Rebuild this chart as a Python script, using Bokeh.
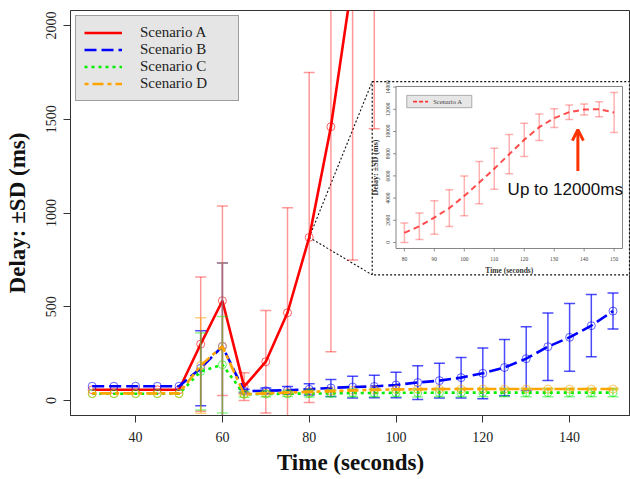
import math
from bokeh.plotting import figure
from bokeh.models import (Range1d, FixedTicker, Legend, LegendItem, Arrow, OpenHead)
from bokeh.core.properties import value
from bokeh.embed import file_html
from bokeh.resources import INLINE

# ---------------- data ----------------
time_s = [30, 35, 40, 45, 50, 55, 60, 65, 70, 75, 80, 85, 90, 95, 100,
          105, 110, 115, 120, 125, 130, 135, 140, 145, 150]

a_mean = [57, 57, 57, 57, 57, 301, 532, 74, 207, 468, 870, 1460, 2250, 3100, 4200,
          5400, 6640, 7960, 9250, 10390, 11200, 11740, 11980, 12010, 11710]
a_sd = [0, 0, 0, 0, 0, 358, 505, 74, 273, 560, 880, 1200, 1500, 1650, 1800,
        1900, 1850, 1760, 1500, 1190, 840, 650, 500, 680, 1800]

b_mean = [76, 76, 76, 76, 76, 172, 289, 50, 52, 55, 60, 67, 72, 75, 83,
          96, 106, 122, 145, 176, 223, 287, 337, 399, 477]
b_sd = [0, 0, 0, 0, 0, 200, 445, 10, 15, 20, 30, 45, 58, 60, 68,
        90, 93, 108, 135, 150, 170, 180, 181, 166, 96]

c_mean = [36, 36, 36, 36, 36, 155, 191, 33, 35, 36, 37, 38, 40, 40, 41,
          41, 42, 42, 42, 42, 42, 42, 42, 42, 42]
c_sd = [0, 0, 0, 0, 0, 205, 257, 15, 15, 15, 18, 18, 20, 20, 20,
        22, 22, 22, 22, 22, 22, 22, 22, 22, 22]

d_mean = [38, 38, 38, 38, 38, 187, 289, 34, 38, 42, 46, 50, 54, 57, 59,
          60, 61, 61, 61, 61, 61, 61, 61, 61, 61]
d_sd = [0, 0, 0, 0, 0, 255, 445, 5, 5, 5, 5, 5, 5, 5, 5,
        5, 5, 5, 5, 5, 5, 5, 5, 5, 5]

series_names = ["Scenario A", "Scenario B", "Scenario C", "Scenario D"]
x_ticks = [40, 60, 80, 100, 120, 140]
y_ticks = [0, 500, 1000, 1500, 2000]
inset_start = 80
inset_x_ticks = [80, 90, 100, 110, 120, 130, 140, 150]
inset_y_ticks = [0, 2000, 4000, 6000, 8000, 10000, 12000, 14000]
x_title = "Time (seconds)"
y_title = "Delay: \u00b1SD (ms)"
note_text = "Up to 12000ms"

# ---------------- styles ----------------
colors = ["#FF0000", "#0000FF", "#00EE00", "#FFA500"]
dashes = ["solid", "12 5", "3 4", "4 4 11 4"]
bar_alpha = [0.4, 0.7, 0.45, 0.5]
SERIF = "Liberation Serif"

p = figure(width=630, height=479, output_backend="svg", toolbar_location=None,
           x_range=Range1d(25.0, 154.03), y_range=Range1d(-80, 2080),
           min_border_left=70, min_border_right=0, min_border_top=10,
           min_border_bottom=64, background_fill_color="white",
           border_fill_color="white")
p.grid.visible = False
p.outline_line_color = "#333333"
p.outline_line_width = 1

for ax in (p.xaxis[0], p.yaxis[0]):
    ax.minor_tick_line_color = None
    ax.major_tick_in = 0
    ax.major_tick_out = 7
    ax.axis_line_color = "#333333"
    ax.major_tick_line_color = "#333333"
    ax.major_label_text_font = SERIF
    ax.major_label_text_font_size = "14px"
    ax.major_label_text_color = "#222222"
    ax.axis_label_text_font = SERIF
    ax.axis_label_text_font_size = "23px"
    ax.axis_label_text_font_style = "bold"
    ax.axis_label_text_color = "#111111"

p.xaxis[0].ticker = FixedTicker(ticks=x_ticks)
p.yaxis[0].ticker = FixedTicker(ticks=y_ticks)
p.xaxis[0].axis_label = x_title
p.yaxis[0].axis_label = y_title
p.xaxis[0].major_label_standoff = 9
p.xaxis[0].axis_label_standoff = 5
p.yaxis[0].major_label_standoff = 8
p.yaxis[0].major_label_orientation = "vertical"
p.yaxis[0].axis_label_standoff = 13

# ---------------- inset (zoom of Scenario A) ----------------
i0 = time_s.index(inset_start)
a_at_start = a_mean[i0]

# outer dotted frame of the inset (main data coords)
frame_x = (94.52, 153.8)
frame_y = (670, 1701)
p.quad(left=[frame_x[0]], right=[frame_x[1]], bottom=[frame_y[0]], top=[frame_y[1]],
       fill_color="white", line_color="#111111", line_dash="2 2", line_width=1.2)
p.segment(x0=[inset_start, inset_start], y0=[a_at_start, a_at_start],
          x1=[frame_x[0], frame_x[0]], y1=[frame_y[1], frame_y[0]],
          line_color="#111111", line_dash="2 2", line_width=1.1)

src_x = (77.2, 152.8)
src_y = (-540, 14054)
tgt_x = (100.0, 152.19)
tgt_y = (810.7, 1674.7)
ins = p.subplot(x_source=Range1d(*src_x), y_source=Range1d(*src_y),
                x_target=Range1d(*tgt_x), y_target=Range1d(*tgt_y))

def to_main_x(v):
    return tgt_x[0] + (v - src_x[0]) * (tgt_x[1] - tgt_x[0]) / (src_x[1] - src_x[0])

def to_main_y(v):
    return tgt_y[0] + (v - src_y[0]) * (tgt_y[1] - tgt_y[0]) / (src_y[1] - src_y[0])

ppx = 2.99        # inset px per x unit
ppy = 0.011093    # inset px per y unit

ins.quad(left=[src_x[0]], right=[src_x[1]], bottom=[src_y[0]], top=[src_y[1]],
         fill_color=None, line_color="#666666", line_width=0.8)
# inset ticks + labels
ins.segment(x0=inset_x_ticks, y0=[src_y[0]] * len(inset_x_ticks),
            x1=inset_x_ticks, y1=[src_y[0] - 3 / ppy] * len(inset_x_ticks),
            line_color="#666666", line_width=0.7)
ins.text(x=inset_x_ticks, y=[src_y[0] - 10 / ppy] * len(inset_x_ticks),
         text=[str(t) for t in inset_x_ticks], text_font=value(SERIF),
         text_font_size=value("5.5px"), text_align="center", text_baseline="middle",
         text_color="#444444")
ins.segment(x0=[src_x[0]] * len(inset_y_ticks), y0=inset_y_ticks,
            x1=[src_x[0] - 3 / ppx] * len(inset_y_ticks), y1=inset_y_ticks,
            line_color="#666666", line_width=0.7)
ins.text(x=[src_x[0] - 8 / ppx] * len(inset_y_ticks), y=inset_y_ticks,
         text=[str(t) for t in inset_y_ticks], text_font=value(SERIF),
         text_font_size=value("5.5px"), text_align="center", text_baseline="middle",
         angle=math.pi / 2, text_color="#444444")
ins.text(x=[(src_x[0] + src_x[1]) / 2], y=[src_y[0] - 22 / ppy], text=[x_title],
         text_font=value(SERIF), text_font_size=value("7.5px"), text_font_style="bold",
         text_align="center", text_baseline="middle", text_color="#333333")
ins.text(x=[src_x[0] - 20.5 / ppx], y=[(src_y[0] + src_y[1]) / 2], text=[y_title],
         text_font=value(SERIF), text_font_size=value("8px"), text_font_style="bold",
         text_align="center", text_baseline="middle", angle=math.pi / 2,
         text_color="#333333")
# inset legend
ins.quad(left=[80.8], right=[102.5], bottom=[12143], top=[13252],
         fill_color="#E6E6E6", line_color="#999999", line_width=0.8)
ins.segment(x0=[82.9], y0=[12690], x1=[87.9], y1=[12690], line_color="#FF3333",
            line_width=1.6, line_dash="4 2")
ins.text(x=[89.6], y=[12690], text=[series_names[0]], text_font=value(SERIF),
         text_font_size=value("6.5px"), text_baseline="middle", text_color="#444444")

# inset series
ix = time_s[i0:]
im = a_mean[i0:]
isd = a_sd[i0:]
cap_i = 4 / ppx
ins.segment(x0=ix, y0=[m - s for m, s in zip(im, isd)], x1=ix,
            y1=[m + s for m, s in zip(im, isd)], line_color="#FF0000", line_alpha=0.3,
            line_width=1.5)
for sign in (-1, 1):
    ins.segment(x0=[x - cap_i for x in ix], y0=[m + sign * s for m, s in zip(im, isd)],
                x1=[x + cap_i for x in ix], y1=[m + sign * s for m, s in zip(im, isd)],
                line_color="#FF0000", line_alpha=0.3, line_width=1.5)
ins.line(ix, im, line_color="#FF2020", line_alpha=0.8, line_width=2, line_dash="6 4")

ins.text(x=[114.45], y=[4751], text=[note_text], text_font=value("Liberation Sans"),
         text_font_size=value("17px"), text_align="left", text_baseline="alphabetic",
         text_color="#111111")
arrow_x = 137.9
p.add_layout(Arrow(end=OpenHead(size=11, line_width=3, line_color="#FF3300"),
                   x_start=to_main_x(arrow_x), y_start=to_main_y(6430),
                   x_end=to_main_x(arrow_x), y_end=to_main_y(10162),
                   line_width=3, line_color="#FF3300"))

# ---------------- main series ----------------
means = [a_mean, b_mean, c_mean, d_mean]
sds = [a_sd, b_sd, c_sd, d_sd]
cap = 5.5 / 4.34
line_renderers = []
for k in range(4):
    col = colors[k]
    xs = [x for x, s in zip(time_s, sds[k]) if s > 0]
    lo = [m - s for m, s in zip(means[k], sds[k]) if s > 0]
    hi = [m + s for m, s in zip(means[k], sds[k]) if s > 0]
    p.segment(x0=xs, y0=lo, x1=xs, y1=hi, line_color=col, line_alpha=bar_alpha[k],
              line_width=1.5)
    for ends in (lo, hi):
        p.segment(x0=[x - cap for x in xs], y0=ends, x1=[x + cap for x in xs], y1=ends,
                  line_color=col, line_alpha=bar_alpha[k], line_width=1.5)
    r = p.line(time_s, means[k], line_color=col, line_width=2.6, line_dash=dashes[k])
    p.scatter(time_s, means[k], marker="circle", size=8, fill_color=None,
              line_color=col, line_alpha=0.6, line_width=1)
    line_renderers.append(r)

legend = Legend(items=[LegendItem(label=n, renderers=[r])
                       for n, r in zip(series_names, line_renderers)],
                location="top_left", margin=5, padding=8, spacing=-1,
                glyph_width=38, glyph_height=15, label_height=15, label_width=90,
                label_standoff=18, label_text_font=SERIF, label_text_font_size="15px",
                label_text_line_height=1.0,
                label_text_color="#222222", background_fill_color="#E5E5E5",
                background_fill_alpha=1.0, border_line_color="#555555",
                border_line_width=1)
p.add_layout(legend)

open("out.html", "w").write(file_html(p, INLINE))
